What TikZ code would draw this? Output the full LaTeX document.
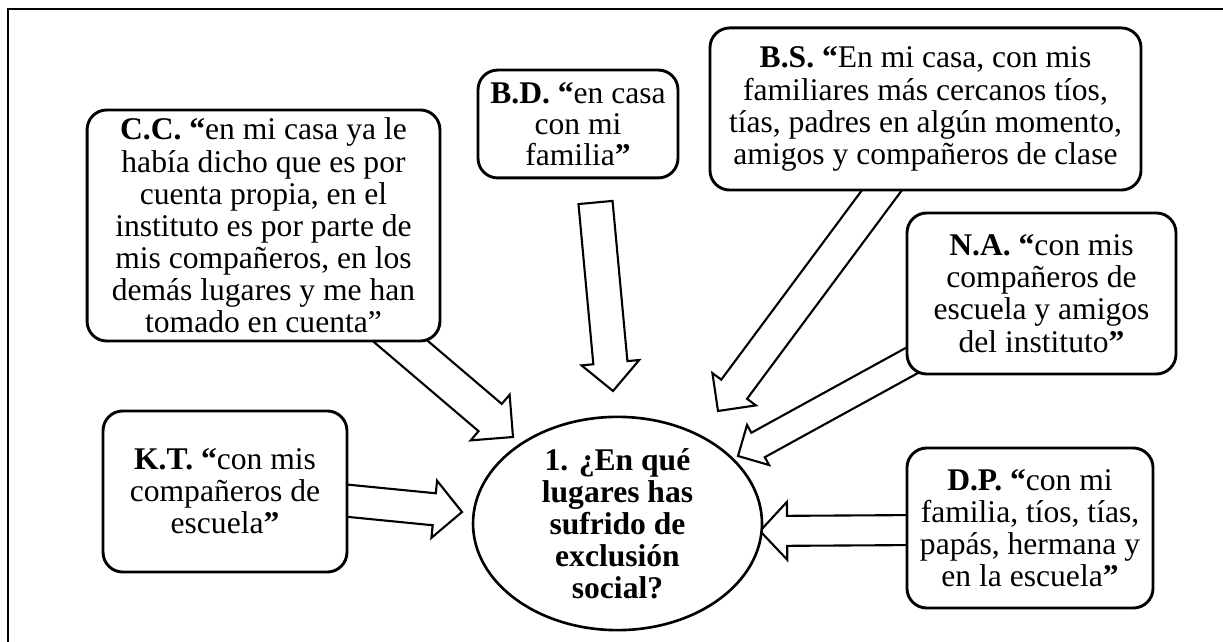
\documentclass[tikz,border=0pt]{standalone}
\usepackage{fontspec}
\setmainfont{Liberation Serif}
\usetikzlibrary{shapes.geometric,calc,backgrounds}

% outline arrow: start, tip, half shaft, half head, head length
\newcommand{\blockarrow}[5]{%
	\path ($(#2)!#5!(#1)$) coordinate (hb);
	\draw[blockarr] ($(#1)!#3!90:(#2)$) -- ($(hb)!#3!-90:(#1)$) -- ($(hb)!#4!-90:(#1)$)
		-- (#2) -- ($(hb)!#4!90:(#1)$) -- ($(hb)!#3!90:(#1)$) -- ($(#1)!#3!-90:(#2)$) -- cycle;
}

\tikzset{
	quotebox/.style={shape=rectangle,draw=black,line width=1.1pt,fill=white,
		rounded corners=7.5pt,inner sep=0pt,align=center,
		font=\fontsize{12pt}{12.2pt}\selectfont},
	question/.style={shape=ellipse,draw=black,line width=1pt,fill=white,
		inner sep=0pt,align=center,
		font=\bfseries\fontsize{12pt}{12.2pt}\selectfont},
	blockarr/.style={draw=black,line width=0.8pt,line join=miter,fill=white},
	frameline/.style={line width=0.8pt}
}

\begin{document}
\begin{tikzpicture}[x=0.38pt,y=-0.38pt]
		\useasboundingbox (0,0) rectangle (1223,642);
		\draw[frameline] (8,642) -- (8,9) -- (1223,9);

		\draw node(cc)[quotebox,minimum width=134.1pt,minimum height=87.8pt,
						at={(263.5,225.5)}]
			{\textbf{C.C. “}en mi casa ya le\\había dicho que es por\\cuenta propia, en el\\
			 instituto es por parte de\\mis compañeros, en los\\demás lugares y me han\\tomado en cuenta”};
		\draw node(bd)[quotebox,minimum width=76pt,minimum height=41pt,
						font=\fontsize{12pt}{11.8pt}\selectfont,
						at={(578,124)}]
			{\textbf{B.D. “}en casa\\con mi\\familia\textbf{”}};
		\draw node(bs)[quotebox,minimum width=163.8pt,minimum height=61.6pt,
						at={(925.5,109)}]
			{\textbf{B.S. “}En mi casa, con mis\\familiares más cercanos tíos,\\
			 tías, padres en algún momento,\\amigos y compañeros de clase};
		\draw node(na)[quotebox,minimum width=102.2pt,minimum height=61.2pt,
						at={(1041.5,293.5)}]
			{\textbf{N.A. “}con mis\\compañeros de\\escuela y amigos\\del instituto\textbf{”}};
		\draw node(kt)[quotebox,minimum width=92.7pt,minimum height=61.2pt,
						at={(225,491.5)}]
			{\textbf{K.T. “}con mis\\compañeros de\\escuela\textbf{”}};
		\draw node(dp)[quotebox,minimum width=93.5pt,minimum height=60.8pt,
						at={(1030,528)}]
			{\textbf{D.P. “}con mi\\familia, tíos, tías,\\papás, hermana y\\en la escuela\textbf{”}};
		\draw node(q1)[question,minimum width=109.8pt,minimum height=74.9pt,
						at={(617.5,523.5)}]
			{1. ¿En qué\\lugares has\\sufrido de\\exclusión\\social?};

		% arrows sit under the boxes
		\begin{scope}[on background layer]
			\coordinate (cc-s) at (378,322);  \coordinate (cc-t) at (513,437);
			\coordinate (bd-s) at (595.5,202.5); \coordinate (bd-t) at (613,391);
			\coordinate (bs-s) at (891,178);  \coordinate (bs-t) at (718,411);
			\coordinate (na-s) at (920,356);  \coordinate (na-t) at (738,456);
			\coordinate (kt-s) at (330,499);  \coordinate (kt-t) at (462,512);
			\coordinate (dp-s) at (925,530);  \coordinate (dp-t) at (760,531);
			\blockarrow{cc-s}{cc-t}{6.8pt}{11.4pt}{11.4pt}
			\blockarrow{bd-s}{bd-t}{6.5pt}{11pt}{10.8pt}
			\blockarrow{bs-s}{bs-t}{6.1pt}{10.3pt}{10.3pt}
			\blockarrow{na-s}{na-t}{5.3pt}{8.7pt}{8.7pt}
			\blockarrow{kt-s}{kt-t}{6.1pt}{10.9pt}{10.6pt}
			\blockarrow{dp-s}{dp-t}{5.7pt}{11pt}{10.3pt}
		\end{scope}
\end{tikzpicture}
\end{document}
